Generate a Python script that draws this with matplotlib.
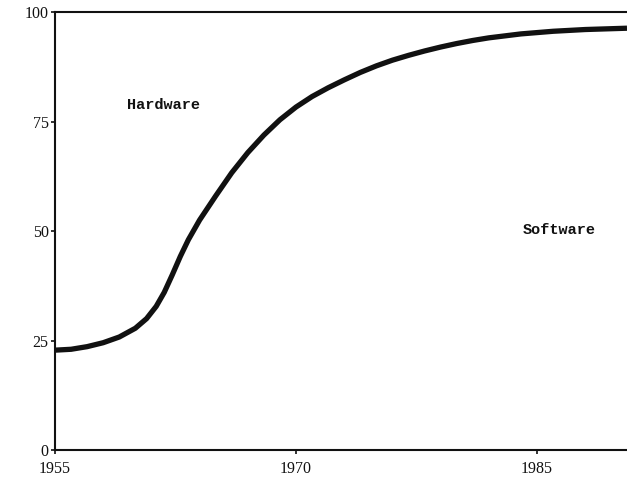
import matplotlib.pyplot as plt

# Donnees (part du materiel en %)
annees = [1955, 1956, 1957, 1958, 1959, 1960, 1960.7, 1961.3, 1961.8,
          1962.3, 1962.8, 1963.3, 1964, 1965, 1966, 1967, 1968, 1969,
          1970, 1971, 1972, 1973, 1974, 1975, 1976, 1977, 1978, 1979,
          1980, 1981, 1982, 1984, 1986, 1988, 1990.6]
part_materiel = [22.8, 23.0, 23.6, 24.5, 25.8, 27.8, 30.0, 32.8, 36.0,
                 40.0, 44.2, 48.0, 52.5, 58.0, 63.3, 67.9, 71.9, 75.4,
                 78.3, 80.7, 82.7, 84.5, 86.2, 87.7, 89.0, 90.1, 91.1, 92.0,
                 92.8, 93.5, 94.1, 95.0, 95.6, 96.0, 96.3]

x_ticks = [1955, 1970, 1985]
y_ticks = [0, 25, 50, 75, 100]

fig = plt.figure(figsize=(6.27, 4.84), dpi=100)
ax = fig.add_axes([0.0877, 0.0702, 0.9123, 0.905])

ax.plot(annees, part_materiel, color='#111111', linewidth=3.8,
        solid_capstyle='butt', solid_joinstyle='round')

ax.set_xlim(1955, 1990.6)
ax.set_ylim(0, 100)

# axes style scan
for cote in ['left', 'bottom', 'top']:
    ax.spines[cote].set_linewidth(1.5)
    ax.spines[cote].set_color('#111111')
ax.spines['right'].set_visible(False)

ax.set_xticks(x_ticks)
ax.set_yticks(y_ticks)
ax.tick_params(axis='both', direction='out', length=3, width=1.2,
               colors='#111111', labelsize=11.5)
for lab in ax.get_xticklabels() + ax.get_yticklabels():
    lab.set_family('Liberation Serif')
ax.tick_params(axis='y', pad=1.5)
ax.tick_params(axis='x', pad=5)

# etiquettes des zones
ax.text(1959.5, 78.8, "Hardware", fontsize=11, fontweight='bold',
        family='Liberation Mono', va='center', ha='left', color='#111111')
ax.text(1984.1, 50.2, "Software", fontsize=11, fontweight='bold',
        family='Liberation Mono', va='center', ha='left', color='#111111')

plt.savefig("out.png", dpi=100)
